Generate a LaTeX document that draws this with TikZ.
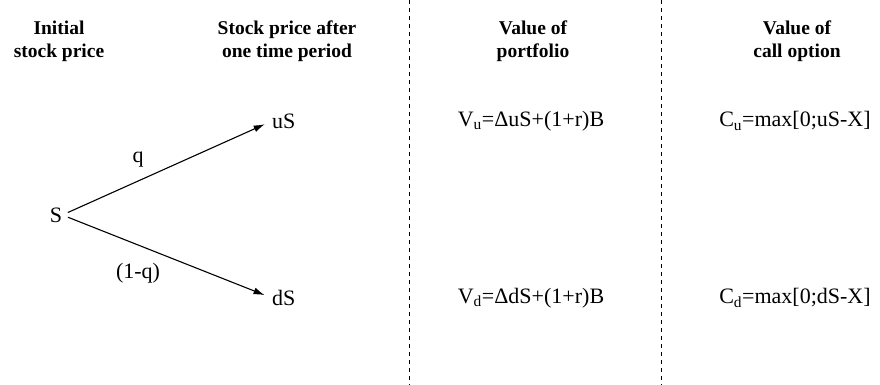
\documentclass[tikz,border=0pt]{standalone}
\usepackage{fontspec}
\setmainfont{Liberation Serif}
\usetikzlibrary{arrows.meta}
\begin{document}
\begin{tikzpicture}[x=1pt,y=-1pt,
  head/.style={font=\fontsize{19.5}{23}\selectfont\bfseries,align=center},
  txt/.style={font=\fontsize{22}{26}\selectfont,inner sep=0pt},
  arr/.style={-{Latex[length=11pt,width=7pt]},line width=1.1pt}]
\useasboundingbox (0,0) rectangle (880,385);
\foreach \x in {409,661}
  \draw[line width=0.9pt,dash pattern=on 4pt off 4pt] (\x,0) -- (\x,385);
\node[head] (h1) at (59,41) {Initial\\stock price};
\node[head] (h2) at (287,41) {Stock price after\\one time period};
\node[head] (h3) at (533,41) {Value of\\portfolio};
\node[head] (h4) at (797,41) {Value of\\call option};
\node[txt] (s) at (56,215) {S};
\node[txt,anchor=west] (us) at (272,121) {uS};
\node[txt,anchor=west] (ds) at (272,298) {dS};
\draw[arr,shorten <=6pt,shorten >=8pt] (s.east) -- (us.west);
\draw[arr,shorten <=6pt,shorten >=8pt] (s.east) -- (ds.west);
\node[txt] (q) at (138,160) {q};
\node[txt] (nq) at (138,273) {(1-q)};
\node[txt] (vu) at (531,121) {V\textsubscript{u}=ΔuS+(1+r)B};
\node[txt] (vd) at (531,298) {V\textsubscript{d}=ΔdS+(1+r)B};
\node[txt] (cu) at (795,121) {C\textsubscript{u}=max[0;uS-X]};
\node[txt] (cd) at (795,298) {C\textsubscript{d}=max[0;dS-X]};
\end{tikzpicture}
\end{document}
